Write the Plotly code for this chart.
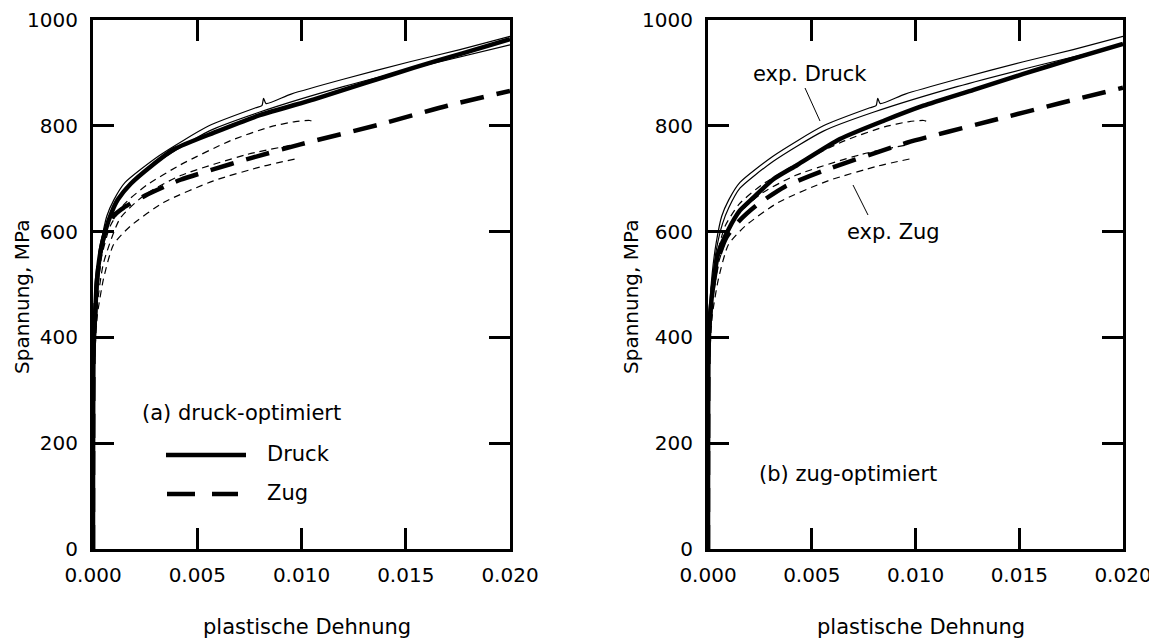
import plotly.graph_objects as go

# ---------------- data (strain, stress in MPa) ----------------
# experimental compression (Druck) curves, same in both panels
expD_a_x = [0, 0.00002, 0.00008, 0.0002, 0.0004, 0.00066, 0.001, 0.00154, 0.00315, 0.00556, 0.0078, 0.0081, 0.00818, 0.0083, 0.0095, 0.012, 0.0152, 0.0176, 0.020]
expD_a_y = [0, 350, 450, 520, 580, 629, 660, 693, 743, 800, 834, 838, 852, 842, 860, 888, 921, 944, 969]
expD_b_x = [0, 0.00002, 0.00008, 0.0002, 0.0004, 0.0007, 0.001, 0.00154, 0.00315, 0.00556, 0.008, 0.012, 0.016, 0.020]
expD_b_y = [0, 330, 430, 500, 565, 615, 645, 682, 733, 790, 826, 874, 915, 953]

# experimental tension (Zug) curves
expZ_a_x = [0, 0.00003, 0.0001, 0.0002, 0.0004, 0.00082, 0.0015, 0.00258, 0.00418, 0.0066, 0.0085, 0.0097, 0.0104, 0.01065]
expZ_a_y = [0, 330, 420, 480, 550, 610, 652, 688, 726, 772, 798, 808, 810, 807]
expZ_b_x = [0, 0.00003, 0.0001, 0.0002, 0.0005, 0.0013, 0.0025, 0.0042, 0.0074, 0.0096]
expZ_b_y = [0, 320, 400, 460, 540, 625, 670, 706, 746, 764]
expZ_c_x = [0, 0.00003, 0.0001, 0.0002, 0.0005, 0.00098, 0.00178, 0.00338, 0.00578, 0.0082, 0.0098]
expZ_c_y = [0, 300, 380, 440, 510, 575, 610, 655, 696, 724, 738]

# (a) druck-optimiert model
a_druck_x = [0, 0.00003, 0.0001, 0.00018, 0.00035, 0.00058, 0.0009, 0.0012, 0.0018, 0.0028, 0.0039, 0.0058, 0.008, 0.0106, 0.0130, 0.0154, 0.0178, 0.020]
a_druck_y = [0, 380, 440, 503, 560, 600, 637, 661, 690, 724, 756, 787, 820, 850, 880, 910, 938, 964]
a_zug_x = [0, 0.00003, 0.0001, 0.00018, 0.00035, 0.0006, 0.001, 0.00146, 0.0025, 0.0042, 0.0058, 0.0074, 0.00995, 0.0138, 0.017, 0.020]
a_zug_y = [0, 380, 440, 503, 560, 600, 630, 645, 668, 698, 718, 737, 765, 803, 838, 866]

# (b) zug-optimiert model
b_druck_x = [0, 0.00003, 0.0001, 0.00026, 0.0005, 0.001, 0.00154, 0.00218, 0.00315, 0.0043, 0.00636, 0.0085, 0.01038, 0.0128, 0.0152, 0.0176, 0.020]
b_druck_y = [0, 380, 440, 503, 560, 605, 640, 664, 699, 726, 775, 810, 838, 868, 898, 927, 955]
b_zug_x = [0, 0.00003, 0.0001, 0.00026, 0.0005, 0.0009, 0.0015, 0.00235, 0.0037, 0.00556, 0.00958, 0.0136, 0.017, 0.020]
b_zug_y = [0, 380, 440, 500, 550, 590, 620, 650, 685, 715, 768, 809, 843, 872]

x_ticks = [0, 0.005, 0.010, 0.015, 0.020]
y_ticks = [0, 200, 400, 600, 800, 1000]

# ---------------- figure ----------------
# the page body has an 8px margin; the figure is sized to fill the rest of the window
OX, OY = 8, 8
W, H = 1157 - OX, 642 - OY
FONT = "DejaVu Sans"
fig = go.Figure()

THIN = 1.2
THICK = 4.5
THIN_DASH = "7px,5px"
THICK_DASH = "24px,13px"


def add(xs, ys, xa, ya, width, dash):
    fig.add_trace(go.Scatter(
        x=xs, y=ys, mode="lines", xaxis=xa, yaxis=ya, showlegend=False,
        hoverinfo="skip",
        line=dict(color="black", width=width, dash=dash, shape="spline", smoothing=0.6)))


for xa, ya, mdx, mdy, mzx, mzy in [("x", "y", a_druck_x, a_druck_y, a_zug_x, a_zug_y),
                                   ("x2", "y2", b_druck_x, b_druck_y, b_zug_x, b_zug_y)]:
    add(expZ_a_x, expZ_a_y, xa, ya, THIN, THIN_DASH)
    add(expZ_b_x, expZ_b_y, xa, ya, THIN, THIN_DASH)
    add(expZ_c_x, expZ_c_y, xa, ya, THIN, THIN_DASH)
    add(expD_a_x, expD_a_y, xa, ya, THIN, "solid")
    add(expD_b_x, expD_b_y, xa, ya, THIN, "solid")
    add(mzx, mzy, xa, ya, THICK, THICK_DASH)
    add(mdx, mdy, xa, ya, THICK, "solid")


def px(v):
    # screen pixel x -> paper fraction
    return (v - OX) / W


def py(v):
    # screen pixel y -> paper fraction
    return 1 - (v - OY) / H


ydom = [py(549), py(20)]
axis_common = dict(showline=True, linewidth=3, linecolor="black", mirror="allticks",
                   ticks="inside", ticklen=21, tickwidth=3, tickcolor="black",
                   showgrid=False, zeroline=False, automargin=False,
                   tickfont=dict(family=FONT, size=20, color="black"))

fig.update_layout(
    width=W, height=H, margin=dict(l=0, r=0, t=0, b=0, autoexpand=False),
    paper_bgcolor="white", plot_bgcolor="white",
    font=dict(family=FONT, size=20, color="black"),
    xaxis=dict(domain=[px(93), px(510)], range=[0, 0.020], tickvals=x_ticks, tickformat=".3f",
               anchor="y", ticklabelstandoff=6, **axis_common),
    yaxis=dict(domain=ydom, range=[0, 1000], tickvals=y_ticks, anchor="x",
               ticklabelstandoff=8, **axis_common),
    xaxis2=dict(domain=[px(708), px(1123)], range=[0, 0.020], tickvals=x_ticks, tickformat=".3f",
                anchor="y2", ticklabelstandoff=6, **axis_common),
    yaxis2=dict(domain=ydom, range=[0, 1000], tickvals=y_ticks, anchor="x2",
                ticklabelstandoff=8, **axis_common),
)

ann = []


def text(s, x, y, xanchor="center", size=21, angle=0):
    ann.append(dict(text=s, x=px(x), y=py(y), xref="paper", yref="paper", showarrow=False,
                    xanchor=xanchor, yanchor="middle", textangle=angle,
                    font=dict(family=FONT, size=size, color="black")))


# axis titles
text("plastische Dehnung", 307, 627)
text("plastische Dehnung", 921, 627)
text("Spannung, MPa", 22, 297, size=20, angle=-90)
text("Spannung, MPa", 631, 297, size=20, angle=-90)

# panel labels / legend
text("(a) druck-optimiert", 140, 413, xanchor="left")
text("Druck", 265, 454, xanchor="left")
text("Zug", 265, 493, xanchor="left")
text("(b) zug-optimiert", 757, 474, xanchor="left")
text("exp. Druck", 810, 74)
text("exp. Zug", 893, 232)

fig.update_layout(annotations=ann)

shapes = [
    dict(type="line", xref="paper", yref="paper", x0=px(166), x1=px(246), y0=py(455), y1=py(455),
         line=dict(color="black", width=THICK)),
    dict(type="line", xref="paper", yref="paper", x0=px(167), x1=px(238), y0=py(494), y1=py(494),
         line=dict(color="black", width=THICK, dash="28px,17px")),
    dict(type="line", xref="paper", yref="paper", x0=px(805), x1=px(820), y0=py(88), y1=py(121),
         line=dict(color="black", width=1)),
    dict(type="line", xref="paper", yref="paper", x0=px(853), x1=px(868), y0=py(185), y1=py(215),
         line=dict(color="black", width=1)),
]
fig.update_layout(shapes=shapes)

fig.write_html("out.html")
